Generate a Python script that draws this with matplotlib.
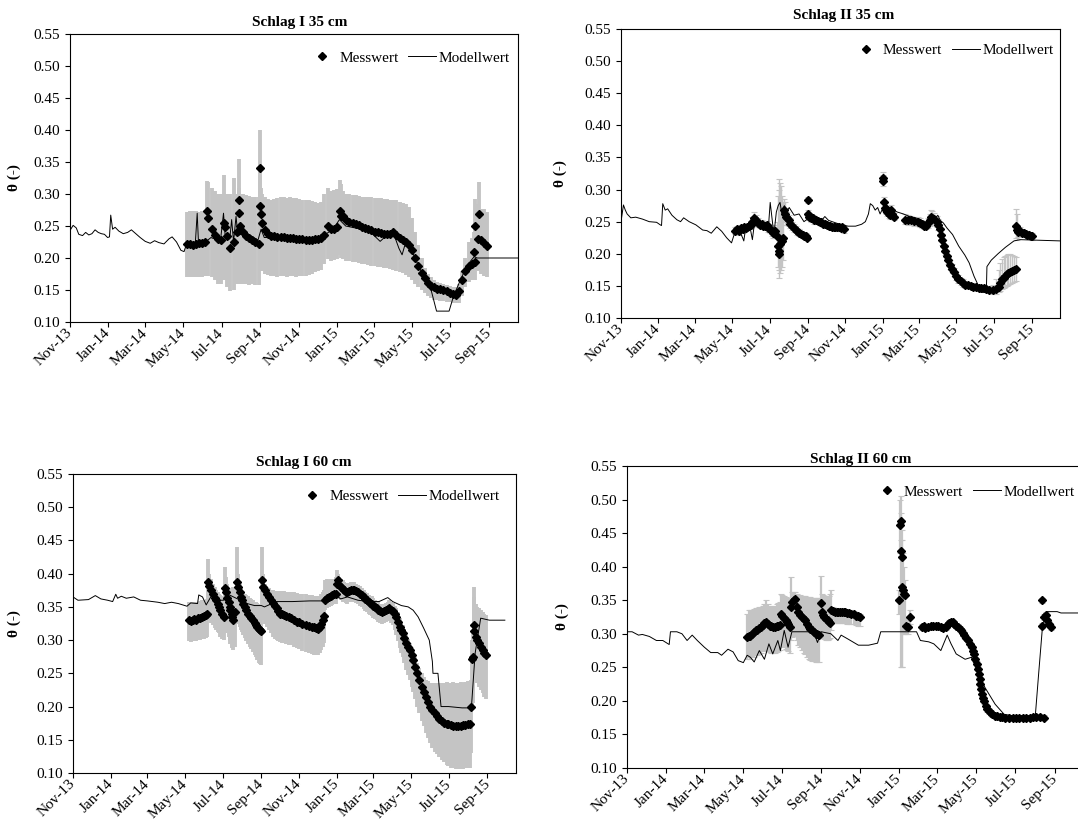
import matplotlib.pyplot as plt
import matplotlib.dates as mdates
from matplotlib.lines import Line2D
from matplotlib.ticker import FormatStrFormatter
import numpy as np
import pandas as pd

plt.rcParams['font.family'] = ['Liberation Serif', 'DejaVu Serif']
plt.rcParams['font.size'] = 11

# Tag 0 = 01.11.2013
START = pd.Timestamp('2013-11-01')
ENDE = pd.Timestamp('2015-10-17')

titles = ['Schlag I 35 cm', 'Schlag II 35 cm', 'Schlag I 60 cm', 'Schlag II 60 cm']

# Messwerte: (Tag, Wert, untere Grenze, obere Grenze)
mess_1 = [
    (186, .222, .170, .272), (191, .222, .171, .274), (196, .221, .170, .273), (201, .222, .171, .274),
    (206, .223, .170, .272), (211, .224, .171, .274), (216, .225, .172, .272), (219, .274, .200, .320),
    (221, .262, .172, .318), (226, .245, .170, .310), (231, .236, .165, .305), (236, .230, .160, .300),
    (241, .228, .160, .300), (246, .255, .165, .330), (247, .248, .165, .300), (251, .235, .155, .300),
    (256, .215, .148, .300), (261, .225, .150, .325), (266, .240, .160, .300), (269, .290, .180, .355),
    (270, .270, .165, .310), (271, .250, .160, .300), (276, .240, .160, .300), (281, .235, .160, .298),
    (286, .232, .158, .297), (291, .228, .160, .296), (296, .225, .158, .295), (301, .222, .158, .295),
    (304, .341, .210, .400), (304, .281, .190, .330), (305, .268, .185, .310), (306, .255, .180, .300),
    (311, .243, .175, .295), (316, .238, .173, .292), (321, .235, .172, .291), (326, .234, .172, .292),
    (331, .233, .171, .294), (336, .233, .172, .295), (341, .233, .172, .295), (346, .232, .171, .294),
    (351, .232, .172, .295), (356, .231, .172, .294), (361, .230, .171, .293), (366, .229, .172, .292),
    (371, .229, .172, .291), (376, .228, .172, .291), (381, .228, .173, .290), (386, .228, .175, .289),
    (391, .229, .178, .287), (396, .230, .180, .286), (401, .232, .182, .288), (406, .236, .190, .300),
    (411, .250, .198, .310), (416, .245, .196, .305), (421, .246, .197, .306), (426, .248, .198, .308),
    (431, .274, .205, .322), (432, .265, .200, .315), (436, .265, .198, .305), (441, .260, .196, .300),
    (446, .257, .195, .300), (451, .255, .194, .299), (456, .253, .193, .298), (461, .251, .192, .297),
    (466, .249, .191, .296), (471, .247, .190, .296), (476, .245, .189, .295), (481, .243, .188, .295),
    (486, .241, .187, .294), (491, .240, .186, .293), (496, .239, .186, .293), (501, .238, .185, .292),
    (506, .237, .184, .292), (511, .237, .183, .291), (516, .240, .182, .291), (521, .236, .180, .290),
    (526, .232, .178, .288), (531, .228, .176, .286), (536, .225, .173, .284), (541, .220, .170, .280),
    (546, .212, .165, .262), (551, .200, .160, .240), (556, .188, .155, .220), (561, .177, .150, .200),
    (566, .168, .145, .185), (571, .161, .140, .175), (576, .157, .137, .170), (581, .154, .135, .166),
    (586, .152, .134, .163), (591, .151, .133, .161), (596, .150, .133, .160), (601, .149, .132, .158),
    (606, .146, .131, .156), (611, .143, .130, .155), (616, .142, .130, .154), (621, .148, .130, .160),
    (626, .165, .140, .180), (631, .180, .155, .200), (636, .188, .162, .225), (641, .190, .165, .232),
    (645, .210, .170, .240), (646, .193, .166, .232), (647, .250, .185, .292), (651, .230, .180, .285),
    (652, .269, .190, .319), (656, .228, .175, .277), (661, .224, .172, .276), (666, .219, .170, .272),
]

# Modellwerte: (Tag, Wert)
modell_1 = [
    (0, .243), (5, .251), (10, .247), (14, .237), (20, .235), (25, .240), (30, .236), (35, .238),
    (40, .244), (45, .240), (50, .238), (55, .237), (60, .232), (63, .233), (65, .267), (68, .245),
    (72, .248), (78, .242), (85, .238), (92, .240), (98, .244), (105, .238), (112, .232), (120, .226),
    (128, .223), (135, .227), (142, .224), (150, .222), (158, .230), (163, .233), (170, .225), (177, .212),
    (182, .210), (186, .222), (192, .222), (200, .223), (203, .270), (205, .225), (215, .224), (225, .232),
    (240, .226), (245, .270), (248, .230), (255, .230), (258, .260), (261, .225), (265, .265), (268, .235),
    (280, .240), (300, .228), (305, .245), (310, .232), (330, .232), (370, .229), (400, .232), (420, .245),
    (430, .260), (440, .250), (460, .246), (480, .240), (495, .226), (505, .235), (515, .242), (525, .215),
    (530, .205), (535, .222), (545, .212), (560, .180), (575, .155), (585, .117), (605, .117), (612, .140),
    (625, .170), (635, .190), (645, .202), (650, .200), (717, .200),
]

mess_2 = [
    (185, .236, .231, .241), (189, .238, .233, .243), (192, .235, .230, .240), (195, .240, .235, .245),
    (198, .238, .233, .243), (201, .241, .236, .246), (203, .240, .235, .245), (206, .242, .237, .247),
    (209, .243, .238, .248), (212, .245, .240, .250), (214, .250, .243, .258), (217, .255, .246, .265),
    (220, .252, .245, .260), (223, .248, .242, .255), (226, .245, .240, .252), (229, .247, .241, .253),
    (231, .244, .239, .250), (234, .243, .238, .249), (237, .245, .240, .251), (240, .240, .234, .246),
    (243, .238, .232, .245), (246, .235, .228, .243), (248, .232, .225, .240), (251, .235, .225, .245),
    (254, .228, .210, .250), (256, .212, .180, .290), (257, .205, .175, .300), (258, .200, .162, .317),
    (259, .215, .170, .310), (260, .222, .175, .305), (262, .220, .180, .290), (264, .225, .190, .280),
    (266, .268, .250, .285), (267, .262, .245, .280), (269, .258, .245, .272), (271, .255, .245, .265),
    (273, .252, .243, .261), (276, .247, .240, .255), (279, .243, .237, .250), (282, .240, .234, .246),
    (285, .237, .232, .243), (287, .235, .230, .240), (290, .233, .228, .238), (293, .231, .226, .236),
    (296, .229, .224, .234), (298, .228, .223, .233), (301, .227, .222, .232), (303, .225, .221, .230),
    (304, .284, .279, .289), (305, .262, .256, .268), (307, .258, .252, .264), (310, .256, .250, .262),
    (313, .255, .249, .261), (315, .253, .247, .259), (318, .252, .246, .258), (321, .251, .246, .256),
    (324, .250, .245, .255), (326, .249, .244, .254), (329, .247, .242, .252), (332, .246, .241, .251),
    (335, .245, .240, .250), (338, .244, .239, .249), (341, .243, .238, .248), (344, .242, .237, .247),
    (347, .242, .237, .247), (349, .242, .237, .247), (352, .241, .236, .246), (355, .241, .236, .246),
    (358, .240, .235, .245), (360, .241, .236, .246), (363, .238, .233, .243),
    (426, .318, .312, .328), (427, .313, .305, .322), (428, .280, .272, .288), (430, .272, .265, .280),
    (432, .268, .262, .275), (434, .265, .259, .271), (436, .262, .256, .268), (438, .260, .254, .266),
    (440, .268, .262, .276), (442, .262, .256, .268), (444, .258, .252, .264),
    (463, .253, .246, .262), (467, .252, .245, .260), (472, .252, .245, .259), (477, .251, .244, .258),
    (483, .250, .243, .257), (487, .248, .242, .255), (491, .246, .240, .253), (494, .244, .238, .251),
    (497, .244, .238, .250), (500, .248, .240, .256), (503, .253, .244, .262), (505, .258, .248, .268),
    (507, .256, .247, .266), (510, .254, .245, .263), (514, .250, .242, .259), (517, .245, .237, .254),
    (519, .238, .230, .247), (521, .230, .222, .239), (523, .222, .214, .231), (526, .212, .205, .221),
    (528, .205, .198, .213), (531, .196, .190, .204), (533, .190, .184, .197), (536, .183, .177, .190),
    (539, .177, .171, .184), (542, .171, .165, .178), (546, .165, .159, .171), (549, .161, .155, .167),
    (553, .157, .151, .163), (557, .154, .149, .160), (561, .152, .147, .158), (565, .151, .146, .156),
    (570, .150, .145, .155), (574, .149, .144, .154), (578, .148, .143, .153), (583, .147, .142, .152),
    (587, .147, .142, .152), (591, .146, .141, .151), (595, .145, .140, .150), (600, .144, .139, .150),
    (606, .144, .138, .152), (610, .145, .138, .160), (615, .148, .140, .175), (618, .154, .142, .185),
    (620, .160, .145, .192), (623, .163, .147, .195), (626, .165, .148, .197), (628, .168, .150, .198),
    (631, .170, .152, .200), (634, .172, .153, .200), (637, .173, .155, .198), (640, .175, .156, .196),
    (643, .176, .158, .195),
    (644, .243, .225, .270), (645, .237, .222, .262), (647, .234, .226, .242), (650, .235, .229, .241),
    (653, .233, .228, .239), (656, .232, .227, .237), (659, .231, .226, .236), (662, .230, .225, .235),
    (665, .229, .224, .234), (668, .228, .223, .233), (670, .227, .222, .232),
]

modell_2 = [
    (0, .250), (4, .276), (7, .268), (10, .262), (16, .256), (24, .257), (35, .254), (46, .250),
    (58, .249), (64, .245), (66, .244), (68, .278), (72, .268), (76, .270), (83, .260), (91, .253),
    (97, .250), (102, .256), (111, .250), (122, .245), (133, .237), (140, .236), (147, .232), (156, .242),
    (164, .235), (172, .225), (180, .217), (185, .232), (192, .238), (198, .225), (200, .220), (203, .240),
    (210, .242), (214, .222), (217, .245), (226, .250), (235, .248), (240, .240), (243, .280), (246, .255),
    (249, .230), (253, .265), (256, .275), (259, .280), (262, .262), (266, .275), (270, .265), (274, .272),
    (282, .260), (290, .262), (298, .250), (305, .255), (315, .252), (325, .250), (332, .258), (338, .252),
    (350, .248), (360, .245), (370, .243), (382, .243), (392, .246), (398, .250), (403, .262), (406, .278),
    (410, .275), (414, .268), (418, .272), (422, .262), (426, .270), (430, .278), (440, .270), (450, .265),
    (460, .262), (470, .258), (483, .255), (494, .250), (505, .248), (511, .255), (516, .260), (520, .252),
    (525, .248), (531, .240), (540, .230), (550, .212), (560, .198), (567, .186), (575, .165), (587, .140),
    (595, .140), (596, .180), (603, .190), (614, .200), (626, .210), (640, .220), (650, .222), (717, .220),
]

mess_3 = [
    (187, .330, .298, .358), (190, .329, .297, .356), (193, .331, .298, .357), (196, .332, .299, .358),
    (199, .331, .298, .357), (202, .333, .300, .358), (205, .334, .300, .359), (208, .335, .301, .360),
    (211, .336, .302, .360), (214, .338, .303, .361), (217, .340, .304, .362), (218, .387, .330, .422),
    (220, .382, .330, .400), (223, .376, .326, .392), (226, .370, .322, .385), (229, .364, .318, .380),
    (231, .360, .315, .376), (234, .354, .312, .372), (236, .350, .310, .370), (238, .345, .305, .368),
    (240, .340, .302, .366), (243, .335, .300, .365), (245, .378, .320, .410), (247, .372, .315, .395),
    (249, .364, .310, .385), (251, .358, .305, .378), (253, .350, .298, .372), (254, .345, .294, .370),
    (256, .340, .290, .368), (257, .335, .288, .366), (259, .330, .285, .380), (262, .342, .290, .375),
    (265, .388, .330, .440), (267, .380, .325, .400), (269, .372, .320, .385), (271, .365, .315, .378),
    (273, .360, .312, .374), (275, .355, .308, .372), (277, .350, .303, .370), (280, .345, .298, .368),
    (282, .340, .294, .366), (285, .336, .290, .364), (287, .333, .286, .362), (290, .330, .282, .360),
    (293, .326, .278, .358), (295, .323, .274, .357), (297, .320, .270, .356), (300, .317, .266, .355),
    (302, .315, .264, .354), (304, .313, .262, .353), (305, .390, .340, .440), (307, .380, .330, .400),
    (310, .375, .325, .385), (313, .370, .320, .380), (316, .365, .315, .378), (320, .360, .310, .376),
    (323, .356, .305, .375), (326, .352, .302, .374), (329, .348, .300, .374), (331, .344, .298, .374),
    (334, .340, .297, .374), (337, .339, .296, .374), (340, .338, .295, .374), (344, .336, .294, .373),
    (348, .335, .293, .373), (352, .333, .292, .372), (357, .330, .290, .372), (361, .328, .288, .371),
    (365, .327, .286, .370), (370, .325, .284, .370), (376, .323, .282, .369), (381, .321, .280, .368),
    (385, .320, .279, .368), (389, .319, .278, .367), (393, .318, .278, .366), (396, .316, .278, .366),
    (399, .320, .280, .367), (401, .325, .285, .370), (403, .330, .290, .372), (405, .336, .295, .375),
    (407, .360, .345, .390), (410, .363, .348, .392), (413, .365, .350, .390), (416, .367, .352, .392),
    (418, .368, .353, .390), (421, .369, .354, .392), (424, .370, .355, .395), (426, .385, .362, .405),
    (427, .390, .365, .400), (429, .383, .362, .395), (432, .380, .360, .392), (435, .377, .358, .390),
    (438, .375, .357, .388), (441, .373, .356, .386), (443, .372, .355, .385), (446, .374, .357, .386),
    (449, .375, .358, .387), (452, .376, .358, .387), (454, .376, .358, .387), (457, .374, .356, .385),
    (460, .372, .354, .383), (463, .370, .352, .381), (466, .368, .350, .379), (469, .365, .347, .376),
    (471, .362, .344, .373), (474, .360, .342, .371), (477, .357, .339, .368), (480, .356, .338, .367),
    (482, .355, .337, .366), (485, .352, .334, .363), (488, .350, .332, .361), (491, .348, .330, .359),
    (493, .346, .328, .357), (496, .344, .326, .355), (499, .343, .325, .354), (502, .344, .326, .355),
    (505, .345, .327, .356), (508, .347, .329, .358), (510, .348, .330, .360), (513, .346, .326, .358),
    (516, .344, .322, .356), (519, .340, .315, .352), (521, .335, .308, .348), (524, .328, .298, .342),
    (527, .320, .288, .334), (530, .315, .280, .328), (532, .310, .275, .322), (535, .303, .265, .316),
    (538, .295, .255, .308), (541, .290, .248, .302), (544, .285, .240, .296), (547, .277, .230, .290),
    (549, .270, .222, .284), (552, .260, .212, .275), (556, .250, .200, .265), (559, .240, .190, .258),
    (563, .230, .178, .250), (566, .222, .170, .245), (570, .215, .160, .240), (573, .207, .152, .238),
    (577, .200, .145, .236), (580, .195, .138, .236), (584, .190, .132, .236), (587, .186, .128, .236),
    (591, .182, .124, .236), (595, .178, .120, .236), (599, .175, .116, .236), (603, .174, .112, .237),
    (606, .173, .110, .236), (610, .172, .108, .236), (614, .171, .107, .237), (618, .171, .106, .236),
    (622, .171, .106, .236), (626, .171, .106, .237), (630, .172, .106, .236), (633, .172, .107, .237),
    (637, .173, .107, .238), (641, .173, .108, .238), (643, .200, .130, .240), (644, .272, .200, .300),
    (645, .275, .205, .310), (647, .323, .250, .380), (648, .313, .245, .365), (650, .305, .240, .355),
    (652, .300, .235, .350), (655, .295, .230, .348), (658, .290, .225, .345), (661, .285, .220, .342),
    (663, .281, .215, .340), (666, .277, .212, .338),
]

modell_3 = [
    (0, .365), (8, .360), (25, .361), (36, .367), (45, .362), (56, .360), (64, .358), (69, .369),
    (72, .363), (78, .366), (86, .363), (98, .365), (109, .360), (120, .359), (137, .357), (148, .355),
    (159, .357), (170, .355), (184, .351), (190, .356), (201, .355), (203, .368), (209, .365), (215, .353),
    (223, .366), (231, .360), (243, .360), (248, .370), (259, .365), (270, .360), (281, .355), (293, .352),
    (304, .352), (309, .350), (321, .355), (326, .358), (354, .358), (382, .359), (401, .359), (407, .365),
    (415, .370), (424, .368), (432, .362), (443, .365), (460, .360), (477, .358), (494, .358), (508, .364),
    (516, .358), (530, .352), (541, .350), (549, .345), (557, .335), (566, .318), (575, .300), (580, .268),
    (581, .250), (589, .250), (594, .200), (606, .200), (628, .198), (643, .198), (649, .280), (658, .333),
    (672, .330), (697, .330),
]

mess_4 = [
    (188, .295, .262, .330), (191, .297, .265, .335), (193, .296, .263, .336), (196, .300, .265, .336),
    (199, .302, .266, .337), (202, .305, .268, .338), (204, .305, .268, .338), (207, .308, .270, .340),
    (209, .310, .272, .340), (212, .313, .274, .342), (215, .316, .276, .345), (217, .318, .277, .350),
    (220, .315, .275, .345), (223, .312, .273, .342), (226, .311, .272, .340), (229, .310, .272, .340),
    (231, .310, .272, .342), (234, .311, .273, .344), (237, .312, .275, .346), (239, .313, .276, .348),
    (241, .330, .285, .360), (243, .327, .282, .358), (245, .324, .280, .356), (248, .320, .278, .355),
    (250, .317, .276, .354), (252, .315, .275, .354), (255, .310, .272, .354), (257, .340, .290, .385),
    (258, .348, .295, .362), (261, .351, .296, .362), (263, .352, .296, .362), (266, .340, .290, .360),
    (268, .332, .284, .358), (271, .328, .280, .358), (274, .325, .276, .357), (277, .322, .272, .356),
    (279, .320, .270, .356), (282, .315, .266, .355), (284, .310, .263, .355), (287, .307, .261, .355),
    (290, .305, .260, .354), (293, .302, .259, .354), (295, .300, .258, .353), (298, .299, .258, .353),
    (300, .298, .258, .354), (304, .346, .300, .386), (305, .332, .296, .360), (306, .328, .294, .358),
    (308, .325, .292, .356), (311, .322, .290, .356), (314, .320, .290, .356), (316, .318, .292, .357),
    (318, .316, .294, .360), (319, .335, .305, .365), (322, .334, .316, .340), (325, .333, .316, .338),
    (328, .332, .316, .337), (330, .332, .316, .337), (333, .333, .316, .338), (336, .332, .316, .337),
    (339, .332, .316, .337), (341, .332, .316, .337), (344, .331, .315, .336), (348, .331, .315, .336),
    (351, .330, .314, .335), (355, .329, .314, .334), (359, .327, .313, .332), (362, .326, .312, .331),
    (365, .325, .311, .330),
    (426, .350, .330, .365), (427, .462, .420, .500), (428, .468, .440, .505), (429, .423, .250, .480),
    (430, .415, .250, .455), (431, .370, .250, .440), (432, .365, .300, .420), (433, .360, .300, .400),
    (435, .358, .320, .380), (437, .312, .300, .325), (439, .310, .300, .320), (442, .325, .315, .335),
    (461, .310, .306, .314), (464, .311, .307, .315), (467, .309, .305, .313), (471, .310, .306, .314),
    (475, .311, .307, .315), (479, .312, .308, .316), (483, .312, .308, .316), (487, .311, .307, .315),
    (491, .310, .306, .314), (495, .309, .305, .313), (499, .310, .306, .314), (502, .314, .310, .318),
    (504, .316, .312, .320), (507, .318, .314, .322), (510, .317, .313, .321), (512, .315, .311, .319),
    (515, .312, .308, .316), (518, .310, .306, .314), (521, .307, .303, .311), (523, .305, .301, .309),
    (526, .301, .297, .305), (528, .298, .294, .302), (531, .294, .290, .298), (534, .290, .286, .294),
    (537, .285, .281, .289), (539, .280, .276, .284), (541, .275, .271, .279), (543, .270, .266, .274),
    (545, .262, .258, .266), (547, .255, .251, .259), (549, .248, .244, .252), (550, .240, .236, .244),
    (552, .232, .228, .236), (553, .225, .221, .229), (554, .218, .214, .222), (555, .210, .206, .214),
    (557, .204, .200, .208), (558, .200, .196, .204), (561, .192, .188, .196), (563, .188, .184, .192),
    (566, .185, .181, .189), (569, .182, .178, .186), (571, .180, .176, .184), (575, .178, .174, .182),
    (579, .177, .173, .181), (583, .176, .172, .180), (587, .176, .172, .180), (592, .175, .171, .179),
    (598, .175, .171, .179), (604, .175, .171, .179), (609, .175, .171, .179), (614, .175, .171, .179),
    (619, .175, .171, .179), (624, .175, .171, .179), (630, .175, .171, .179), (635, .176, .172, .180),
    (640, .176, .172, .180), (646, .176, .172, .180), (649, .350, .346, .354), (649, .312, .308, .316),
    (652, .175, .171, .179), (652, .325, .321, .329), (655, .328, .324, .332), (657, .320, .316, .324),
    (660, .315, .311, .319), (663, .310, .306, .314),
]

modell_4 = [
    (0, .303), (8, .303), (18, .298), (24, .299), (35, .296), (46, .290), (56, .290), (66, .284),
    (68, .303), (78, .303), (86, .300), (94, .290), (102, .298), (110, .290), (121, .280), (131, .272),
    (142, .272), (148, .268), (158, .277), (166, .273), (174, .260), (182, .257), (188, .268), (193, .265),
    (199, .258), (207, .275), (215, .262), (222, .285), (228, .270), (236, .290), (240, .275), (246, .305),
    (252, .280), (258, .303), (292, .303), (298, .287), (304, .303), (319, .300), (330, .290), (335, .298),
    (346, .292), (362, .283), (378, .283), (392, .286), (397, .303), (453, .303), (459, .290), (472, .288),
    (480, .285), (491, .275), (501, .298), (507, .285), (515, .270), (529, .262), (539, .265), (550, .240),
    (560, .220), (576, .195), (590, .180), (603, .178), (636, .178), (639, .180), (644, .240), (650, .310),
    (657, .333), (673, .333), (679, .331), (717, .331),
]

# Pixelrahmen der Diagramme (links, oben, rechts, unten) im 1078x832-Bild
boxes = [(70, 34, 518, 322), (621, 29, 1060, 318), (73, 474, 516, 773), (627, 466, 1084, 768)]
legend_xy = [(0.982, 0.917), (0.986, 0.927), (0.964, 0.926), (0.980, 0.914)]
title_x = [0.513, 0.506, 0.521, 0.512]
title_pad = [6.0, 7.0, 6.0, 2.5]
ylabel_x = [-0.109, -0.123, -0.118, -0.127]
err_width = [2.8, 1.0, 2.8, 1.6]
cap_size = [0, 2, 0, 2]

data = [(mess_1, modell_1), (mess_2, modell_2), (mess_3, modell_3), (mess_4, modell_4)]

W, H = 1078, 832
fig = plt.figure(figsize=(W / 100, H / 100), dpi=100)


def to_dates(days):
    return (START + pd.to_timedelta(np.asarray(days), unit='D')).values


for i, (mess, modell) in enumerate(data):
    l, t, r, b = boxes[i]
    ax = fig.add_axes([l / W, 1 - b / H, (r - l) / W, (b - t) / H])

    tag, wert, unten, oben = (np.array(c) for c in zip(*mess))
    x = to_dates(tag)
    ax.errorbar(x, wert, yerr=[wert - unten, oben - wert], fmt='none',
                ecolor='#c4c4c4', elinewidth=err_width[i], capsize=cap_size[i],
                capthick=0.8, zorder=1)

    m_tag, m_wert = zip(*modell)
    ax.plot(to_dates(m_tag), m_wert, color='black', lw=0.7, zorder=2)
    ax.plot(x, wert, ls='none', marker='D', ms=4.2, color='black', zorder=3)

    ax.set_xlim(START, ENDE)
    ax.set_ylim(0.10, 0.55)
    ax.set_yticks(np.arange(0.10, 0.551, 0.05))
    ax.yaxis.set_major_formatter(FormatStrFormatter('%.2f'))
    ax.xaxis.set_major_locator(mdates.MonthLocator(bymonth=[1, 3, 5, 7, 9, 11]))
    ax.xaxis.set_major_formatter(mdates.DateFormatter('%b-%y'))
    ax.tick_params(direction='out', length=3.5, width=0.8, labelsize=11)
    ax.tick_params(axis='x', pad=3)
    plt.setp(ax.get_xticklabels(), rotation=45, ha='right', va='center',
             rotation_mode='anchor')
    for s in ax.spines.values():
        s.set_linewidth(0.8)
        s.set_color('black')

    ax.set_title(titles[i], fontweight='bold', fontsize=11, x=title_x[i], pad=title_pad[i])
    ax.set_ylabel('θ (-)', fontweight='bold', fontsize=11)
    ax.yaxis.set_label_coords(ylabel_x[i], 0.5)

    handles = [Line2D([], [], ls='none', marker='D', ms=4.2, color='black'),
               Line2D([], [], color='black', lw=0.7)]
    ax.legend(handles, ['Messwert', 'Modellwert'], loc='center right',
              bbox_to_anchor=legend_xy[i], ncol=2, frameon=False, fontsize=11,
              handlelength=1.8, handletextpad=0.2, columnspacing=0.65,
              borderpad=0, borderaxespad=0, numpoints=1)

fig.savefig('out.png', dpi=100)
